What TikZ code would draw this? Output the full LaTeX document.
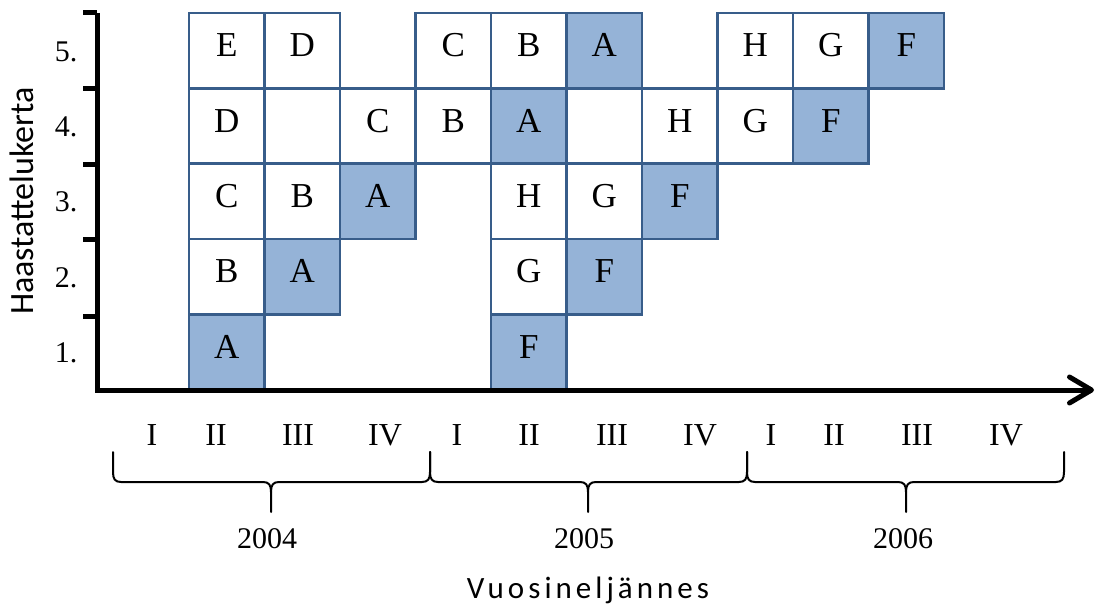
\documentclass[tikz,border=0pt]{standalone}
\usepackage{fontspec}
\setmainfont{Liberation Serif}
\newfontfamily\calibri{Carlito}
\newfontfamily\spacedcalibri[LetterSpace=13]{Carlito}
\usetikzlibrary{arrows.meta}
\usetikzlibrary{positioning}
\definecolor{cell_rand}{HTML}{385D8A}
\definecolor{cell_blau}{HTML}{95B3D7}

% brace under one year: left end, tip, right end
\newcommand{\yearbrace}[3]{%
\draw[bracestyle] (#1,452) -- (#1,472) .. controls (#1,479) and (#1+2,482) .. (#1+8,482) -- (#2-8,482) .. controls (#2-2,482) and (#2,485) .. (#2,492) -- (#2,512);
\draw[bracestyle] (#2,492) .. controls (#2,485) and (#2+2,482) .. (#2+8,482) -- (#3-8,482) .. controls (#3-2,482) and (#3,479) .. (#3,472) -- (#3,452);}

\begin{document}
\begin{tikzpicture}[x=0.5pt, y=-0.5pt,
  opencell/.style={draw=cell_rand, line width=1.3pt, rectangle, minimum width=37.75pt, minimum height=37.7pt, inner sep=0pt, font=\fontsize{17.5}{20}\selectfont, text height=12pt, text depth=6pt},
  donecell/.style={opencell, fill=cell_blau},
  axis/.style={line width=2.5pt, black},
  bracestyle/.style={line width=1pt, black, line cap=round},
  ylabel/.style={font=\fontsize{15}{18}\selectfont},
  quarter/.style={font=\fontsize{16}{19}\selectfont},
  year/.style={font=\fontsize{15}{18}\selectfont}]
\useasboundingbox (0,0) rectangle (1097,604);
%\draw[step=75.5, very thin, red] (0,0) grid (1097,604);

% cells: row/column/text/style
\foreach \r/\c/\t/\s in {5/0/E/opencell, 5/1/D/opencell, 5/3/C/opencell, 5/4/B/opencell, 5/5/A/donecell, 5/7/H/opencell, 5/8/G/opencell, 5/9/F/donecell,
  4/0/D/opencell, 4/1//opencell, 4/2/C/opencell, 4/3/B/opencell, 4/4/A/donecell, 4/5//opencell, 4/6/H/opencell, 4/7/G/opencell, 4/8/F/donecell,
  3/0/C/opencell, 3/1/B/opencell, 3/2/A/donecell, 3/4/H/opencell, 3/5/G/opencell, 3/6/F/donecell,
  2/0/B/opencell, 2/1/A/donecell, 2/4/G/opencell, 2/5/F/donecell,
  1/0/A/donecell, 1/4/F/donecell}
  \node[\s] (c\r\c) at ({226.75+75.5*\c}, {352.25-75.4*(\r-1)}) {\t};

% axes
\coordinate (ytop) at (97,13);
\coordinate (origin) at (97,390);
\coordinate (xend) at (1094,390);
\draw[axis, -{Straight Barb[length=11pt, width=13pt, round]}] (ytop) -- (origin) -- (xend);
\foreach \y in {13,89,165,240,316}
  \draw[axis] (97,\y) -- ++(-14,0);

\foreach \r in {1,...,5}
  \node[ylabel] (y\r) at (66, {353-75.4*(\r-1)}) {\r.};
\node[rotate=90, font=\calibri\fontsize{17}{20}\selectfont] (ytitle) at (22,201) {Haastattelukerta};

% quarters and years
\foreach \x/\q [count=\i] in {152/I, 216/II, 298/III, 385/IV, 457/I, 529/II, 612/III, 700/IV, 771/I, 834/II, 917/III, 1006/IV}
  \node[quarter] (q\i) at (\x,435) {\q};

\yearbrace{113}{271}{430}
\yearbrace{430}{588}{747}
\yearbrace{747}{906}{1064}

\node[year] (y2004) at (267,539) {2004};
\node[year] (y2005) at (584,539) {2005};
\node[year] (y2006) at (903,539) {2006};

\node[font=\spacedcalibri\fontsize{15.5}{18}\selectfont] (xtitle) at (588,590) {Vuosineljännes};
\end{tikzpicture}
\end{document}
